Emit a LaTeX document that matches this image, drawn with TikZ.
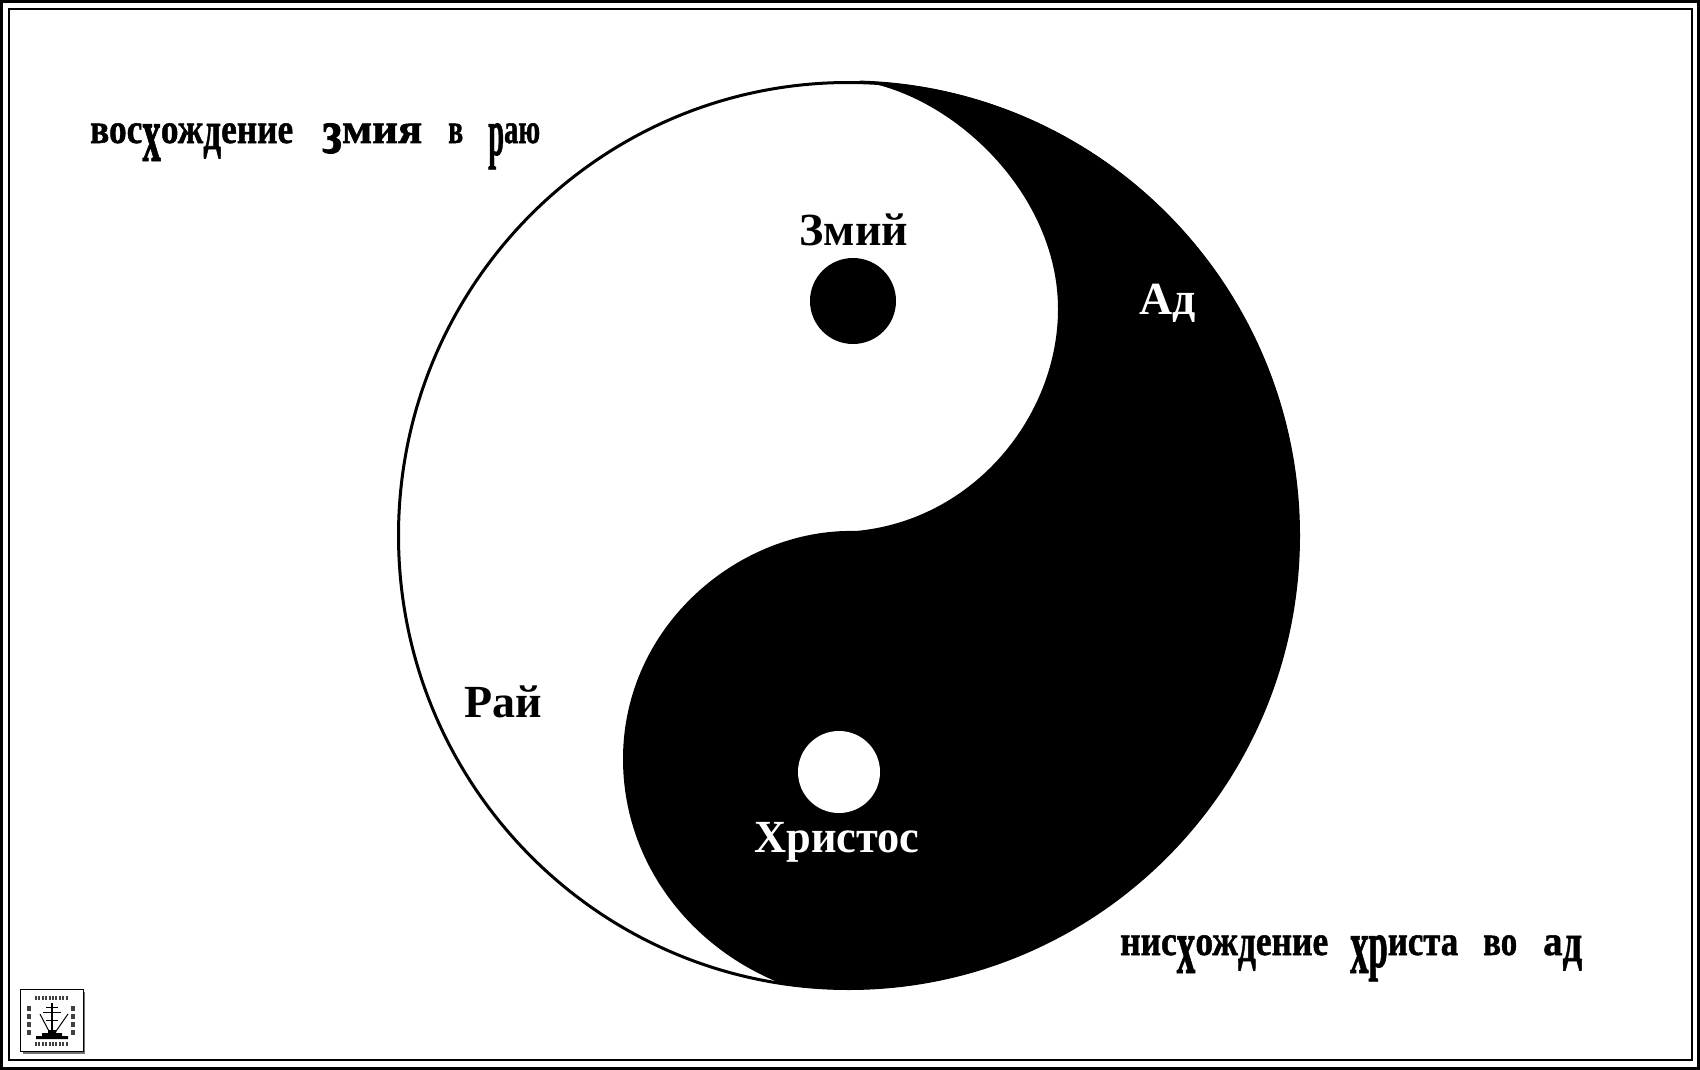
\documentclass[tikz,border=0pt]{standalone}
\usepackage{fontspec}
\setmainfont{Liberation Serif}
\newfontfamily\slavfont[BoldFeatures={FakeBold=1.2}]{Liberation Serif}
\newcommand{\lowx}{\raisebox{-18pt}{\scalebox{1.05}[1.9]{х}}}
\newcommand{\lowd}{\raisebox{-6pt}{\scalebox{1}[1.3]{д}}}
\newcommand{\lowp}{\raisebox{-12pt}{\scalebox{1}[1.6]{р}}}
\newcommand{\lowz}{\raisebox{-10pt}{\scalebox{1.1}[1.5]{з}}}
\newcommand{\slw}[2]{\resizebox{#1pt}{\height}{#2}}
\tikzset{
  x=1pt,y=-1pt,
  slav/.style={font=\fontsize{42}{42}\slavfont\bfseries,anchor=base west,inner sep=0pt,black},
  labelb/.style={font=\fontsize{46}{46}\selectfont\bfseries,anchor=base,inner sep=0pt,black},
  labelw/.style={labelb,white},
  logomark/.style={black,line width=1pt},
  logotext/.style={black!75,line width=2.4pt,dash pattern=on 2pt off 1.4pt}
}
\begin{document}
\begin{tikzpicture}
\useasboundingbox (0,0) rectangle (1700,1070);
\fill[white] (0,0) rectangle (1700,1070);
% frames
\coordinate (fo1) at (1.3,1.3); \coordinate (fo2) at (1698.7,1068.7);
\coordinate (fi1) at (9.2,9.2); \coordinate (fi2) at (1692,1060);
\draw[line width=2.6pt] (fo1) rectangle (fo2);
\draw[line width=2.2pt] (fi1) rectangle (fi2);
% disc
\coordinate (c) at (848.5,535.5);
\draw[line width=3pt,fill=white] (c) ellipse[x radius=450,y radius=453];
% black half
\fill[black] (860.3,81.1)
  .. controls (955,96) and (1058,195) .. (1058,309)
  .. controls (1058,415) and (975,520) .. (856,531)
  .. controls (740,528) and (623,625) .. (623,759)
  .. controls (623,860) and (688,948) .. (785,985)
  arc[start angle=98.0,delta angle=-186.5,x radius=451.5,y radius=454.5]
  -- cycle;
% dots
\fill[black] (853,301) circle[radius=43];
\fill[white] (839,772) circle[radius=41];
% labels
\node[labelb] (zm) at (854,245) {Змий};
\node[labelw] (ad) at (1168,314) {Ад};
\node[labelb] (ra) at (503,717) {Рай};
\node[labelw] (hr) at (837,852) {\resizebox{165pt}{\height}{Христос}};
\node[slav] (t1) at (90,143) {\slw{203}{вос\lowx ож\lowd ение}\hspace{29pt}\slw{100}{\lowz мия}\hspace{26pt}\slw{15}{в}\hspace{25pt}\slw{52}{\lowp аю}};
\node[slav] (t2) at (1120,955) {\slw{208}{нис\lowx ож\lowd ение}\hspace{22pt}\slw{108}{\lowx \lowp иста}\hspace{25pt}\slw{34}{во}\hspace{26pt}\slw{39}{а\lowd}};
% logo
\fill[black!55] (23,992) rectangle (85,1054);
\draw[black,line width=1pt,fill=white] (20,989) rectangle (83,1051);
\coordinate (ltl) at (35,998); \coordinate (ltr) at (68,998);
\coordinate (lbl) at (35,1044); \coordinate (lbr) at (68,1044);
\coordinate (lll) at (29,1006); \coordinate (llb) at (29,1036);
\coordinate (lrt) at (73,1006); \coordinate (lrb) at (73,1036);
\draw[logotext,line width=4.5pt] (ltl) -- (ltr);
\draw[logotext,line width=4.5pt] (lbl) -- (lbr);
\draw[logotext,line width=3.5pt,dash pattern=on 5pt off 3pt] (lll) -- (llb);
\draw[logotext,line width=3.5pt,dash pattern=on 5pt off 3pt] (lrt) -- (lrb);
\draw[logomark,line width=1.6pt] (52,1003) -- (52,1037);
\draw[logomark] (46,1007) -- (58,1007) (43,1012) -- (61,1012) (46,1020) -- (58,1020);
\draw[logomark] (40,1014) -- (52,1037) -- (68,1014);
\fill[black] (36,1039) -- (36,1036) -- (42,1036) -- (42,1033) -- (48,1033) -- (48,1030) -- (56,1030) -- (56,1033) -- (62,1033) -- (62,1036) -- (68,1036) -- (68,1039) -- cycle;
\end{tikzpicture}
\end{document}
